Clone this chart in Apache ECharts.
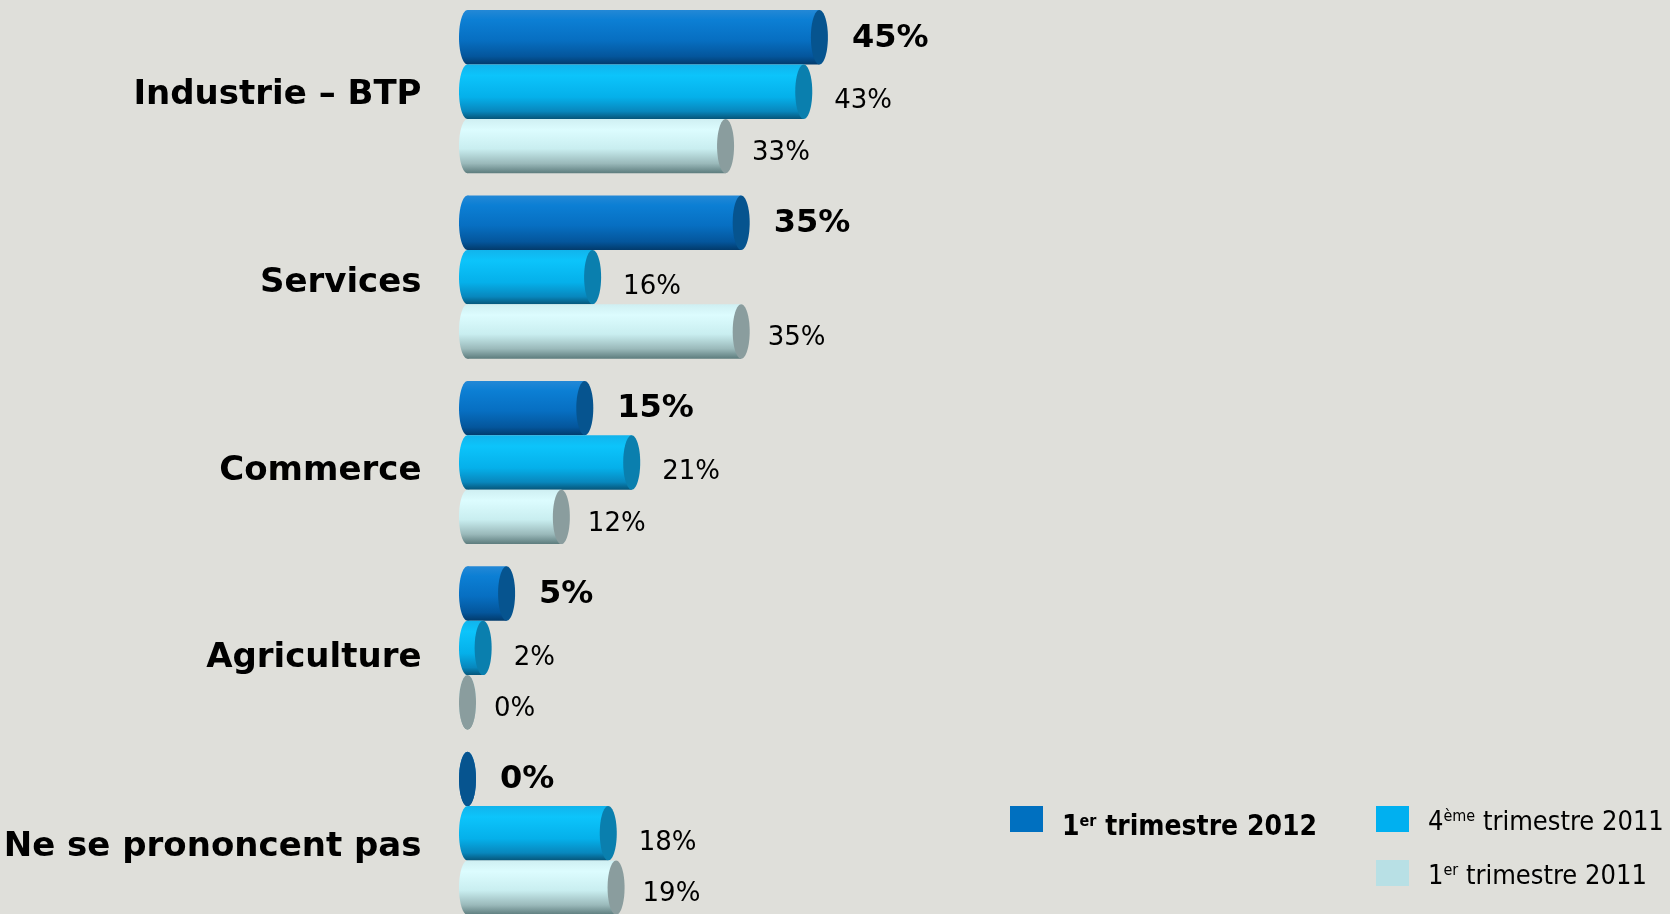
<!DOCTYPE html>
<html>
<head>
<meta charset="utf-8">
<title>Secteurs</title>
<script src="https://cdn.jsdelivr.net/npm/echarts@6/dist/echarts.min.js"></script>
<style>
html, body { margin: 0; padding: 0; background: #dfdfda; }
#chart { width: 1670px; height: 914px; }
</style>
</head>
<body>
<div id="chart"></div>
<script>
var categories = ['Industrie – BTP', 'Services', 'Commerce', 'Agriculture', 'Ne se prononcent pas']
var seriesNames = ['1er trimestre 2012', '4ème trimestre 2011', '1er trimestre 2011']
var q1_2012 = [45, 35, 15, 5, 0]
var q4_2011 = [43, 16, 21, 2, 18]
var q1_2011 = [33, 35, 12, 0, 19]

var GAP = 0.12    // espace entre les groupes
var RX = 8.5      // demi-largeur de l'ellipse du cylindre

var bodyStops = [
  [[0, '#2388d6'], [0.18, '#0c7fd4'], [0.55, '#076fc2'], [0.85, '#04569c'], [1, '#023b6c']],
  [[0, '#12b4ec'], [0.2, '#0cc4fb'], [0.6, '#05b0ea'], [0.86, '#0887bd'], [1, '#06567a']],
  [[0, '#cfeff2'], [0.2, '#dcfcfe'], [0.55, '#c9eef0'], [0.82, '#9ab9ba'], [1, '#5d7c7d']]
]
var capColors = ['#06548f', '#0a7fae', '#8a9d9e']
var legendColors = ['#0070c0', '#00b0f0', '#b8e0e5']
var labelFont = ['bold 32px "DejaVu Sans"', '26px "DejaVu Sans"', '26px "DejaVu Sans"']
var labelGap = [24, 22, 18]
var labelDy = [1, 10, 7]
// décalage vertical des libellés de catégorie (px, vers le bas)
var catShift = [3, 6, 9, 10, 14]

function toData (arr) {
  return arr.map(function (v, i) { return [v, i] })
}

function gradient (idx) {
  return new echarts.graphic.LinearGradient(0, 0, 0, 1, bodyStops[idx].map(function (s) {
    return { offset: s[0], color: s[1] }
  }))
}

function makeRender (idx) {
  return function (params, api) {
    var v = api.value(0)
    var cat = api.value(1)
    var p0 = api.coord([0, cat])
    var p1 = api.coord([v, cat])
    var band = api.size([0, 1])[1]
    var h = band * (1 - GAP) / 3
    var top = p0[1] - band * (1 - GAP) / 2 + idx * h
    var cy = top + h / 2
    return {
      type: 'group',
      children: [
        { type: 'ellipse', shape: { cx: p0[0], cy: cy, rx: RX, ry: h / 2 }, style: { fill: gradient(idx) } },
        { type: 'rect', shape: { x: p0[0], y: top, width: p1[0] - p0[0], height: h }, style: { fill: gradient(idx) } },
        { type: 'ellipse', shape: { cx: p1[0], cy: cy, rx: RX, ry: h / 2 }, style: { fill: capColors[idx] } },
        {
          type: 'text',
          style: {
            text: v + '%',
            x: p1[0] + RX + labelGap[idx],
            y: cy + labelDy[idx],
            verticalAlign: 'middle',
            font: labelFont[idx],
            fill: '#000'
          }
        }
      ]
    }
  }
}

// "1er trimestre 2012" -> 1 + exposant "er" + reste
function legendText (name) {
  var m = name.match(/^(\d)(er|ème)(.*)$/)
  return '{n|' + m[1] + '}{s|' + m[2] + '}{n|' + m[3] + '}'
}

var legendFont = "'DejaVu Sans Condensed', 'Liberation Sans', sans-serif"

var catRich = {}
catShift.forEach(function (d, i) {
  catRich['c' + i] = {
    fontFamily: 'DejaVu Sans',
    fontWeight: 'bold',
    fontSize: 34,
    color: '#000',
    padding: [d * 2, 0, 0, 0]
  }
})

var chart = echarts.init(document.getElementById('chart'))
var option = {
  backgroundColor: '#dfdfda',
  animation: false,
  grid: {
    left: 467.5,
    top: -1,
    bottom: -12,
    width: 782,
    outerBoundsMode: 'none'   // ne pas réduire la grille pour garder les labels
  },
  xAxis: {
    type: 'value',
    min: 0,
    max: 100,
    show: false
  },
  yAxis: {
    type: 'category',
    inverse: true,
    data: categories,
    axisLine: { show: false },
    axisTick: { show: false },
    splitLine: { show: false },
    axisLabel: {
      margin: 46,
      color: '#000',
      fontFamily: 'DejaVu Sans',
      fontWeight: 'bold',
      fontSize: 34,
      formatter: function (value, index) {
        return '{c' + index + '|' + value + '}'
      },
      rich: catRich
    }
  },
  legend: [
    {
      data: [seriesNames[0]],
      left: 1010,
      top: 806,
      padding: 0,
      icon: 'rect',
      itemWidth: 33,
      itemHeight: 26,
      formatter: legendText,
      textStyle: {
        padding: [18, 0, 0, 14],
        rich: {
          n: { fontFamily: legendFont, fontWeight: 'bold', fontSize: 28, color: '#000', lineHeight: 28 },
          s: { fontFamily: legendFont, fontWeight: 'bold', fontSize: 16, color: '#000', verticalAlign: 'top', lineHeight: 16 }
        }
      }
    },
    {
      data: [seriesNames[1], seriesNames[2]],
      left: 1376,
      top: 806,
      padding: 0,
      orient: 'vertical',
      icon: 'rect',
      itemWidth: 33,
      itemHeight: 26,
      itemGap: 24,
      formatter: legendText,
      textStyle: {
        padding: [7, 0, 0, 14],
        rich: {
          n: { fontFamily: legendFont, fontSize: 27, color: '#000', lineHeight: 28 },
          s: { fontFamily: legendFont, fontSize: 16, color: '#000', verticalAlign: 'top', lineHeight: 16 }
        }
      }
    }
  ],
  series: [
    { name: seriesNames[0], type: 'custom', renderItem: makeRender(0), encode: { x: 0, y: 1 }, itemStyle: { color: legendColors[0] }, data: toData(q1_2012) },
    { name: seriesNames[1], type: 'custom', renderItem: makeRender(1), encode: { x: 0, y: 1 }, itemStyle: { color: legendColors[1] }, data: toData(q4_2011) },
    { name: seriesNames[2], type: 'custom', renderItem: makeRender(2), encode: { x: 0, y: 1 }, itemStyle: { color: legendColors[2] }, data: toData(q1_2011) }
  ]
}
chart.setOption(option)
</script>
</body>
</html>
